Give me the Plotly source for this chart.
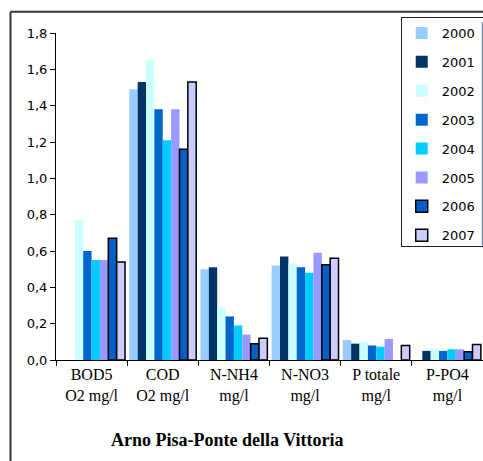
import plotly.graph_objects as go

# categorie (etichette asse x) e anni
categorie = ["BOD5<br>O2 mg/l", "COD<br>O2 mg/l", "N-NH4<br>mg/l",
             "N-NO3<br>mg/l", "P totale<br>mg/l", "P-PO4<br>mg/l"]
anni = ["2000", "2001", "2002", "2003", "2004", "2005", "2006", "2007"]

# valori (None = dato mancante)
v2000 = [None, 1.49, 0.50, 0.52, 0.11, None]
v2001 = [None, 1.53, 0.51, 0.57, 0.09, 0.05]
v2002 = [0.77, 1.65, 0.29, 0.53, 0.10, 0.064]
v2003 = [0.60, 1.38, 0.24, 0.51, 0.08, 0.05]
v2004 = [0.55, 1.21, 0.19, 0.48, 0.073, 0.059]
v2005 = [0.55, 1.38, 0.14, 0.59, 0.116, 0.059]
v2006 = [0.67, 1.16, 0.09, 0.525, None, 0.046]
v2007 = [0.54, 1.53, 0.12, 0.56, 0.08, 0.086]
valori = [v2000, v2001, v2002, v2003, v2004, v2005, v2006, v2007]

colori = ["#99CCFF", "#003366", "#CCFFFF", "#0066CC",
          "#00CCFF", "#9999FF", "#0060C8", "#CCCCFF"]
bordi = [0, 0, 0, 0, 0, 0, 1.5, 1.5]

fig = go.Figure()
for anno, v, c, b in zip(anni, valori, colori, bordi):
    fig.add_trace(go.Bar(
        x=categorie, y=v, name=anno, legendgroup=anno,
        marker=dict(color=c, line=dict(color="black", width=b)),
    ))

# cornice esterna del grafico (sinistra e alto), in pixel dal margine
fig.add_shape(type="line", xref="paper", yref="paper",
              x0=-0.1066, x1=-0.1066, y0=-0.5, y1=1.065,
              line=dict(color="#333333", width=2))
fig.add_shape(type="line", xref="paper", yref="paper",
              x0=-0.1066, x1=1.0, y0=1.065, y1=1.065,
              line=dict(color="#333333", width=2))

# titolo in basso
fig.add_annotation(text="<b>Arno Pisa-Ponte della Vittoria</b>",
                   xref="paper", yref="paper", x=(227 - 56) / 427, y=-0.245,
                   showarrow=False, xanchor="center", yanchor="middle",
                   font=dict(family="Liberation Serif", size=18, color="black"))

fig.update_layout(
    width=483, height=461,
    margin=dict(l=56, r=0, t=33, b=101),
    plot_bgcolor="white", paper_bgcolor="white",
    barmode="group", bargap=0.06, bargroupgap=0,
    separators=",.",
    showlegend=True,
    legend=dict(x=0.997, xanchor="right", y=1.049, yanchor="top",
                bordercolor="#222222", borderwidth=1, bgcolor="white",
                font=dict(family="DejaVu Sans", size=13, color="black"),
                tracegroupgap=9, itemwidth=30),
    xaxis=dict(showline=True, linecolor="black", linewidth=1,
               ticks="outside", ticklen=5, tickcolor="black",
               tickson="boundaries",
               tickfont=dict(family="Liberation Serif", size=16, color="black")),
    yaxis=dict(range=[0, 1.8], dtick=0.2, tickformat=".1f",
               showline=True, linecolor="black", linewidth=1,
               ticks="outside", ticklen=5, tickcolor="black",
               showgrid=False, zeroline=False,
               tickfont=dict(family="DejaVu Sans", size=13, color="black")),
)

# niente margine del body, la figura riempie la finestra
fig.write_html("out.html", config={"displayModeBar": False},
               post_script="document.body.style.margin='0';")
